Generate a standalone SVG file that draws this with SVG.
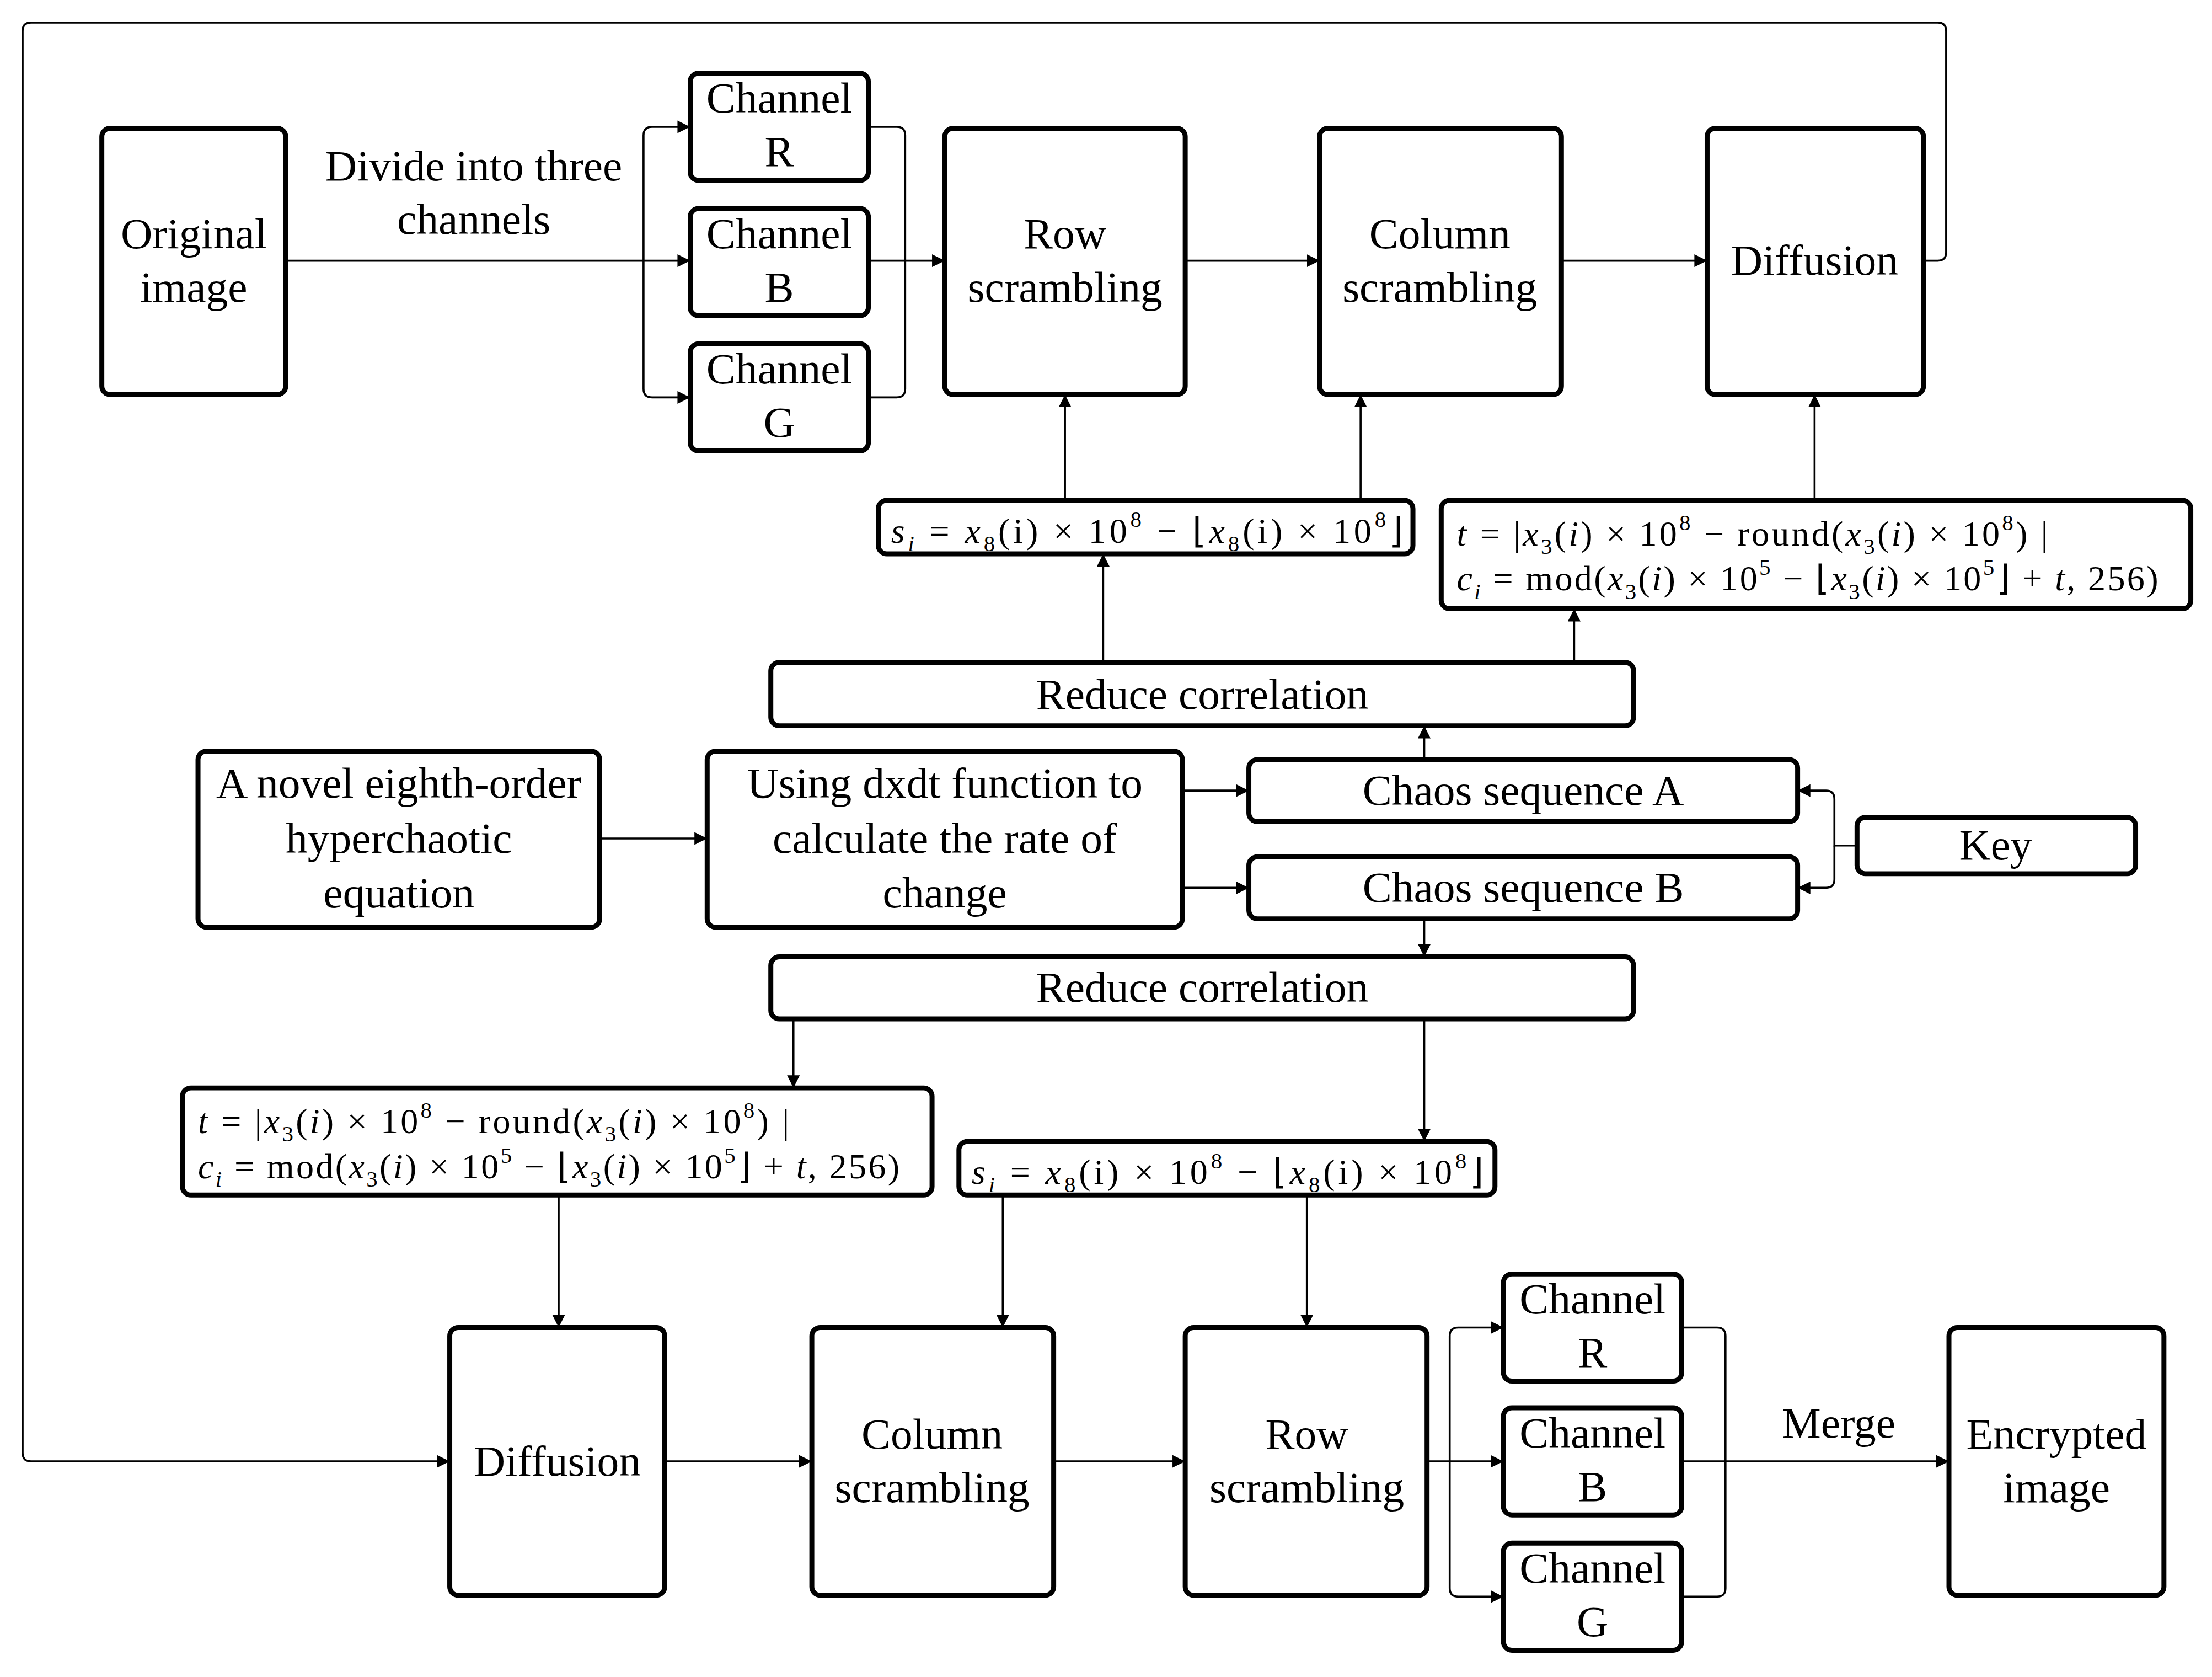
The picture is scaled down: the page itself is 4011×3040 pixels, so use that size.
<svg xmlns="http://www.w3.org/2000/svg" width="4011" height="3040" viewBox="0 0 4011 3040">
<style>
.b{fill:#fff;stroke:#000;stroke-width:3.5}
.t{font-family:"Liberation Serif",serif;font-size:31px;text-anchor:middle}
.m{font-family:"Liberation Serif",serif;font-size:25px}
.c{fill:none;stroke:#000;stroke-width:1.4}
.i{font-style:italic}
</style>
<defs><marker id="a" viewBox="0 0 10 10" refX="10" refY="5" markerWidth="9" markerHeight="9" markerUnits="userSpaceOnUse" orient="auto"><path d="M0,0L10,5L0,10z"/></marker></defs>
<rect width="4011" height="3040" fill="#fff"/>
<g transform="scale(2.5646,2.5546)">
<g id="connectors" class="c">
<path d="M1362,185 H1370 Q1376,185 1376,179 V22 Q1376,16 1370,16 H22 Q16,16 16,22 V1031 Q16,1037 22,1037 H318" marker-end="url(#a)"/>
<path d="M202,185 H488" marker-end="url(#a)"/>
<path d="M455,185 V96 Q455,90 461,90 H488" marker-end="url(#a)"/>
<path d="M455,185 V276 Q455,282 461,282 H488" marker-end="url(#a)"/>
<path d="M614,90 H634 Q640,90 640,96 V276 Q640,282 634,282 H614"/>
<path d="M614,185 H668" marker-end="url(#a)"/>
<path d="M838,185 H933" marker-end="url(#a)"/>
<path d="M1104,185 H1207" marker-end="url(#a)"/>
<path d="M753,355 V280" marker-end="url(#a)"/>
<path d="M962,355 V280" marker-end="url(#a)"/>
<path d="M1283,355 V280" marker-end="url(#a)"/>
<path d="M780,470 V393" marker-end="url(#a)"/>
<path d="M1113,470 V432" marker-end="url(#a)"/>
<path d="M1007,539 V515" marker-end="url(#a)"/>
<path d="M424,595 H500" marker-end="url(#a)"/>
<path d="M836,561 H883" marker-end="url(#a)"/>
<path d="M836,630 H883" marker-end="url(#a)"/>
<path d="M1313,600 H1297 V567 Q1297,561 1291,561 H1271" marker-end="url(#a)"/>
<path d="M1297,600 V624 Q1297,630 1291,630 H1271" marker-end="url(#a)"/>
<path d="M1007,652 V679" marker-end="url(#a)"/>
<path d="M561,723 V772" marker-end="url(#a)"/>
<path d="M1007,723 V810" marker-end="url(#a)"/>
<path d="M395,848 V942" marker-end="url(#a)"/>
<path d="M709,848 V942" marker-end="url(#a)"/>
<path d="M924,848 V942" marker-end="url(#a)"/>
<path d="M470,1037 H574" marker-end="url(#a)"/>
<path d="M745,1037 H838" marker-end="url(#a)"/>
<path d="M1009,1037 H1063" marker-end="url(#a)"/>
<path d="M1025,1037 V948 Q1025,942 1031,942 H1063" marker-end="url(#a)"/>
<path d="M1025,1037 V1127 Q1025,1133 1031,1133 H1063" marker-end="url(#a)"/>
<path d="M1189,942 H1214 Q1220,942 1220,948 V1127 Q1220,1133 1214,1133 H1189"/>
<path d="M1189,1037 H1378" marker-end="url(#a)"/>
</g>
<text class="t" x="335" y="128">Divide into three</text>
<text class="t" x="335" y="166">channels</text>
<text class="t" x="1300" y="1020">Merge</text>
<g id="orig"><rect class="b" x="72" y="91" width="130" height="189" rx="6"/><text class="t" x="137" y="176">Original</text><text class="t" x="137" y="214">image</text></g>
<g id="chR"><rect class="b" x="488" y="52" width="126" height="76" rx="6"/><text class="t" x="551" y="80">Channel</text><text class="t" x="551" y="118">R</text></g>
<g id="chB"><rect class="b" x="488" y="148" width="126" height="76" rx="6"/><text class="t" x="551" y="176">Channel</text><text class="t" x="551" y="214">B</text></g>
<g id="chG"><rect class="b" x="488" y="244" width="126" height="76" rx="6"/><text class="t" x="551" y="272">Channel</text><text class="t" x="551" y="310">G</text></g>
<g id="row1"><rect class="b" x="668" y="91" width="170" height="189" rx="6"/><text class="t" x="753" y="176">Row</text><text class="t" x="753" y="214">scrambling</text></g>
<g id="col1"><rect class="b" x="933" y="91" width="171" height="189" rx="6"/><text class="t" x="1018" y="176">Column</text><text class="t" x="1018" y="214">scrambling</text></g>
<g id="dif1"><rect class="b" x="1207" y="91" width="153" height="189" rx="6"/><text class="t" x="1283" y="195">Diffusion</text></g>
<g id="s1"><rect class="b" x="621" y="355" width="378" height="38" rx="6"/>
<text class="m" x="630" y="385" textLength="362" lengthAdjust="spacing"><tspan class="i">s</tspan><tspan class="i" font-size="16" dy="6">i</tspan><tspan dy="-6"> = </tspan><tspan class="i">x</tspan><tspan font-size="16" dy="6">8</tspan><tspan dy="-6">(i) × 10</tspan><tspan font-size="16" dy="-11">8</tspan><tspan dy="11"> − ⌊</tspan><tspan class="i">x</tspan><tspan font-size="16" dy="6">8</tspan><tspan dy="-6">(i) × 10</tspan><tspan font-size="16" dy="-11">8</tspan><tspan dy="11">⌋</tspan></text></g>
<g id="t1"><rect class="b" x="1019" y="355" width="530" height="77" rx="6"/>
<text class="m" x="1030" y="387" textLength="418" lengthAdjust="spacing"><tspan class="i">t</tspan> = |<tspan class="i">x</tspan><tspan font-size="16" dy="6">3</tspan><tspan dy="-6">(</tspan><tspan class="i">i</tspan>) × 10<tspan font-size="16" dy="-11">8</tspan><tspan dy="11"> − round(</tspan><tspan class="i">x</tspan><tspan font-size="16" dy="6">3</tspan><tspan dy="-6">(</tspan><tspan class="i">i</tspan>) × 10<tspan font-size="16" dy="-11">8</tspan><tspan dy="11">) |</tspan></text>
<text class="m" x="1030" y="419" textLength="496" lengthAdjust="spacing"><tspan class="i">c</tspan><tspan class="i" font-size="16" dy="6">i</tspan><tspan dy="-6"> = mod(</tspan><tspan class="i">x</tspan><tspan font-size="16" dy="6">3</tspan><tspan dy="-6">(</tspan><tspan class="i">i</tspan>) × 10<tspan font-size="16" dy="-11">5</tspan><tspan dy="11"> − ⌊</tspan><tspan class="i">x</tspan><tspan font-size="16" dy="6">3</tspan><tspan dy="-6">(</tspan><tspan class="i">i</tspan>) × 10<tspan font-size="16" dy="-11">5</tspan><tspan dy="11">⌋ + </tspan><tspan class="i">t</tspan>, 256)</text></g>
<g id="rc1"><rect class="b" x="545" y="470" width="610" height="45" rx="6"/><text class="t" x="850" y="503">Reduce correlation</text></g>
<g id="novel"><rect class="b" x="140" y="533" width="284" height="125" rx="6"/><text class="t" x="282" y="566">A novel eighth-order</text><text class="t" x="282" y="605">hyperchaotic</text><text class="t" x="282" y="644">equation</text></g>
<g id="dxdt"><rect class="b" x="500" y="533" width="336" height="125" rx="6"/><text class="t" x="668" y="566">Using dxdt function to</text><text class="t" x="668" y="605">calculate the rate of</text><text class="t" x="668" y="644">change</text></g>
<g id="chaosA"><rect class="b" x="883" y="539" width="388" height="44" rx="6"/><text class="t" x="1077" y="571">Chaos sequence A</text></g>
<g id="chaosB"><rect class="b" x="883" y="608" width="388" height="44" rx="6"/><text class="t" x="1077" y="640">Chaos sequence B</text></g>
<g id="key"><rect class="b" x="1313" y="580" width="197" height="40" rx="6"/><text class="t" x="1411" y="610">Key</text></g>
<g id="rc2"><rect class="b" x="545" y="679" width="610" height="44" rx="6"/><text class="t" x="850" y="711">Reduce correlation</text></g>
<g id="t2"><rect class="b" x="129" y="772" width="530" height="76" rx="6"/>
<text class="m" x="140" y="804" textLength="418" lengthAdjust="spacing"><tspan class="i">t</tspan> = |<tspan class="i">x</tspan><tspan font-size="16" dy="6">3</tspan><tspan dy="-6">(</tspan><tspan class="i">i</tspan>) × 10<tspan font-size="16" dy="-11">8</tspan><tspan dy="11"> − round(</tspan><tspan class="i">x</tspan><tspan font-size="16" dy="6">3</tspan><tspan dy="-6">(</tspan><tspan class="i">i</tspan>) × 10<tspan font-size="16" dy="-11">8</tspan><tspan dy="11">) |</tspan></text>
<text class="m" x="140" y="836" textLength="496" lengthAdjust="spacing"><tspan class="i">c</tspan><tspan class="i" font-size="16" dy="6">i</tspan><tspan dy="-6"> = mod(</tspan><tspan class="i">x</tspan><tspan font-size="16" dy="6">3</tspan><tspan dy="-6">(</tspan><tspan class="i">i</tspan>) × 10<tspan font-size="16" dy="-11">5</tspan><tspan dy="11"> − ⌊</tspan><tspan class="i">x</tspan><tspan font-size="16" dy="6">3</tspan><tspan dy="-6">(</tspan><tspan class="i">i</tspan>) × 10<tspan font-size="16" dy="-11">5</tspan><tspan dy="11">⌋ + </tspan><tspan class="i">t</tspan>, 256)</text></g>
<g id="s2"><rect class="b" x="678" y="810" width="379" height="38" rx="6"/>
<text class="m" x="687" y="840" textLength="362" lengthAdjust="spacing"><tspan class="i">s</tspan><tspan class="i" font-size="16" dy="6">i</tspan><tspan dy="-6"> = </tspan><tspan class="i">x</tspan><tspan font-size="16" dy="6">8</tspan><tspan dy="-6">(i) × 10</tspan><tspan font-size="16" dy="-11">8</tspan><tspan dy="11"> − ⌊</tspan><tspan class="i">x</tspan><tspan font-size="16" dy="6">8</tspan><tspan dy="-6">(i) × 10</tspan><tspan font-size="16" dy="-11">8</tspan><tspan dy="11">⌋</tspan></text></g>
<g id="dif2"><rect class="b" x="318" y="942" width="152" height="190" rx="6"/><text class="t" x="394" y="1047">Diffusion</text></g>
<g id="col2"><rect class="b" x="574" y="942" width="171" height="190" rx="6"/><text class="t" x="659" y="1028">Column</text><text class="t" x="659" y="1066">scrambling</text></g>
<g id="row2"><rect class="b" x="838" y="942" width="171" height="190" rx="6"/><text class="t" x="924" y="1028">Row</text><text class="t" x="924" y="1066">scrambling</text></g>
<g id="chR2"><rect class="b" x="1063" y="904" width="126" height="76" rx="6"/><text class="t" x="1126" y="932">Channel</text><text class="t" x="1126" y="970">R</text></g>
<g id="chB2"><rect class="b" x="1063" y="999" width="126" height="76" rx="6"/><text class="t" x="1126" y="1027">Channel</text><text class="t" x="1126" y="1065">B</text></g>
<g id="chG2"><rect class="b" x="1063" y="1095" width="126" height="76" rx="6"/><text class="t" x="1126" y="1123">Channel</text><text class="t" x="1126" y="1161">G</text></g>
<g id="enc"><rect class="b" x="1378" y="942" width="152" height="190" rx="6"/><text class="t" x="1454" y="1028">Encrypted</text><text class="t" x="1454" y="1066">image</text></g>
</g>
</svg>
